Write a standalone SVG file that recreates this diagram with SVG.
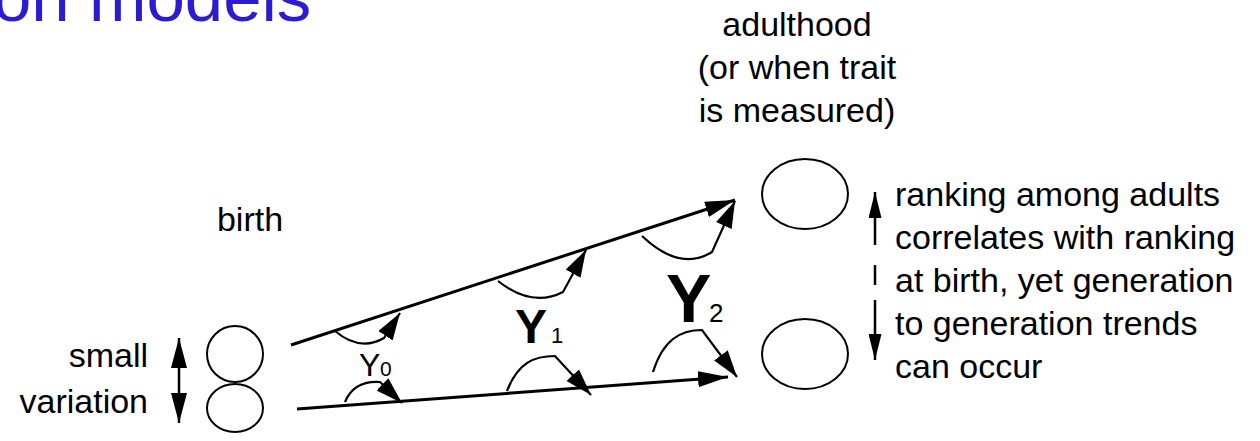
<svg xmlns="http://www.w3.org/2000/svg" width="1260" height="441" viewBox="0 0 1260 441">
<style>
  text { font-family: "Liberation Sans", Arial, sans-serif; fill: #000; }
  .lbl { font-size: 34px; }
  .title { font-size: 69px; fill: #2b1bd1; }
  .node { fill: #fff; stroke: #000; stroke-width: 2; }
  .main { fill: none; stroke: #000; stroke-width: 3; }
  .arc { fill: none; stroke: #000; stroke-width: 2.2; }
  .thin { fill: none; stroke: #000; stroke-width: 2.5; }
  .ybig { font-weight: bold; }
</style>
<defs>
  <marker id="ah" viewBox="0 0 10 10" preserveAspectRatio="none" refX="10" refY="5" markerWidth="30" markerHeight="16" markerUnits="userSpaceOnUse" orient="auto-start-reverse">
    <path d="M0,0 L10,5 L0,10 z" fill="#000"/>
  </marker>
  <marker id="ahs" viewBox="0 0 10 10" preserveAspectRatio="none" refX="10" refY="5" markerWidth="27" markerHeight="17" markerUnits="userSpaceOnUse" orient="auto-start-reverse">
    <path d="M0,0 L10,5 L0,10 z" fill="#000"/>
  </marker>
  <marker id="ahv" viewBox="0 0 10 10" preserveAspectRatio="none" refX="10" refY="5" markerWidth="26" markerHeight="13" markerUnits="userSpaceOnUse" orient="auto-start-reverse">
    <path d="M0,0 L10,5 L0,10 z" fill="#000"/>
  </marker>
</defs>

<g id="title">
  <text class="title" x="-7" y="21">on models</text>
</g>

<g id="labels">
  <text class="lbl" x="797" y="36" text-anchor="middle">adulthood</text>
  <text class="lbl" x="797" y="79" text-anchor="middle">(or when trait</text>
  <text class="lbl" x="797" y="122" text-anchor="middle">is measured)</text>
  <text class="lbl" x="250" y="231" text-anchor="middle">birth</text>
  <text class="lbl" x="148" y="367" text-anchor="end">small</text>
  <text class="lbl" x="148" y="413" text-anchor="end">variation</text>
  <text class="lbl" x="895" y="206">ranking among adults</text>
  <text class="lbl" x="895" y="249">correlates with ranking</text>
  <text class="lbl" x="895" y="292">at birth, yet generation</text>
  <text class="lbl" x="895" y="335">to generation trends</text>
  <text class="lbl" x="895" y="378">can occur</text>
</g>

<g id="y-labels">
  <text x="359" y="376" font-size="32">Y<tspan x="380" font-size="21">0</tspan></text>
  <text class="ybig" x="515" y="343" font-size="48">Y<tspan x="551" font-size="22" font-weight="normal">1</tspan></text>
  <text class="ybig" x="666" y="322" font-size="68">Y<tspan x="709" font-size="26" font-weight="normal">2</tspan></text>
</g>

<g id="birth-top"><ellipse class="node" cx="235" cy="354" rx="28" ry="28"/></g>
<g id="birth-bottom"><ellipse class="node" cx="235" cy="408" rx="28" ry="24"/></g>
<g id="adult-top"><ellipse class="node" cx="805" cy="194" rx="43" ry="35"/></g>
<g id="adult-bottom"><ellipse class="node" cx="805" cy="354" rx="43" ry="35"/></g>

<g id="connectors">
  <line class="main" x1="291" y1="345" x2="735" y2="200" marker-end="url(#ah)"/>
  <line class="main" x1="297" y1="409" x2="728" y2="377" marker-end="url(#ah)"/>

  <path class="arc" d="M335,331 Q360,352 384,338 L400,313" marker-end="url(#ahs)"/>
  <path class="arc" d="M498,281 Q532,308 563,292 L586,250" marker-end="url(#ahs)"/>
  <path class="arc" d="M642,236 Q680,272 712,252 L735,201" marker-end="url(#ahs)"/>

  <path class="arc" d="M345,402 C352,385 365,381 380,382 L402,403" marker-end="url(#ahs)"/>
  <path class="arc" d="M507,391 C518,362 535,356 555,356 L591,395" marker-end="url(#ahs)"/>
  <path class="arc" d="M653,372 C663,340 680,330 702,330 L737,377" marker-end="url(#ahs)"/>

  <line class="thin" x1="179" y1="338" x2="179" y2="423" marker-start="url(#ah)" marker-end="url(#ah)"/>

  <line class="thin" x1="875" y1="245" x2="875" y2="192" marker-end="url(#ahv)"/>
  <line class="thin" x1="875" y1="265" x2="875" y2="285"/>
  <line class="thin" x1="875" y1="300" x2="875" y2="360" marker-end="url(#ahv)"/>
</g>
</svg>
